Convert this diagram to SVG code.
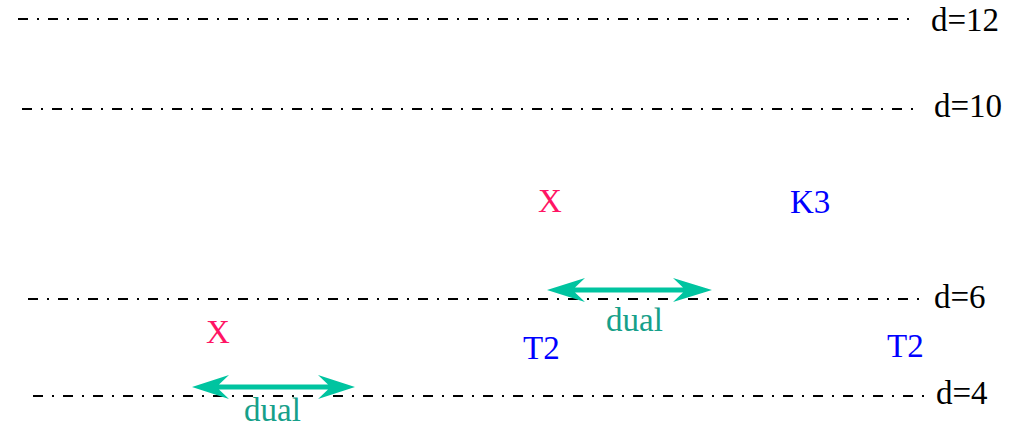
<svg xmlns="http://www.w3.org/2000/svg" width="1020" height="429" viewBox="0 0 1020 429">
  <defs>
    <style>
      .lvl { stroke: #000; stroke-width: 2; stroke-dasharray: 10 9 2 9; fill: none; }
      .t { font-family: "Liberation Serif", "Times New Roman", serif; font-size: 33px; }
      .lbl { fill: #000; }
      .x { fill: #ff1464; }
      .b { fill: #0000ff; }
      .dual { fill: #16a08a; }
      .arr { fill: #00c4a0; }
    </style>
  </defs>
  <rect width="1020" height="429" fill="#fff"/>
  <g id="levels">
    <g id="level-12">
      <line class="lvl" x1="18" y1="19" x2="914" y2="19"/>
      <text class="t lbl" x="931" y="31">d=12</text>
    </g>
    <g id="level-10">
      <line class="lvl" x1="22" y1="109" x2="916" y2="109"/>
      <text class="t lbl" x="934" y="117">d=10</text>
    </g>
    <g id="level-6">
      <line class="lvl" x1="28" y1="299" x2="925" y2="299"/>
      <text class="t lbl" x="934" y="308">d=6</text>
    </g>
    <g id="level-4">
      <line class="lvl" x1="33" y1="396" x2="930" y2="396"/>
      <text class="t lbl" x="936" y="404">d=4</text>
    </g>
  </g>
  <g id="node-X-top"><text class="t x" x="538" y="212">X</text></g>
  <g id="node-K3"><text class="t b" x="790" y="213">K3</text></g>
  <g id="node-X-bottom"><text class="t x" x="206" y="343">X</text></g>
  <g id="node-T2-mid"><text class="t b" x="523" y="359">T2</text></g>
  <g id="node-T2-right"><text class="t b" x="887" y="357">T2</text></g>
  <g id="connectors">
    <g id="dual-top">
      <path class="arr" d="M547,290 L585,278 L575,287.5 L683,287.5 L673,278 L712,290 L673,302 L683,292.5 L575,292.5 L585,302 Z"/>
      <text class="t dual" x="606" y="331">dual</text>
    </g>
    <g id="dual-bottom">
      <path class="arr" d="M192,387 L229,375 L219,384.5 L328,384.5 L318,375 L355,387 L318,399 L328,389.5 L219,389.5 L229,399 Z"/>
      <text class="t dual" x="244" y="421">dual</text>
    </g>
  </g>
</svg>
